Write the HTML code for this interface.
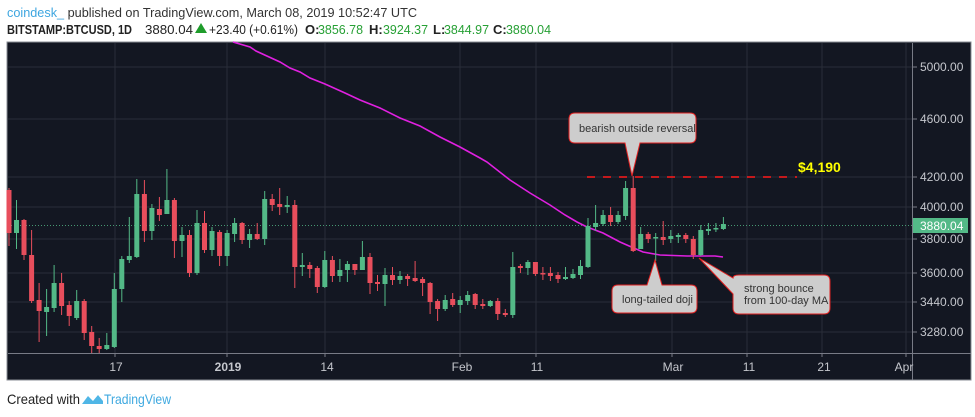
<!DOCTYPE html>
<html><head><meta charset="utf-8"><style>
html,body{margin:0;padding:0;background:#fff;width:975px;height:417px;overflow:hidden}
svg{display:block;font-family:"Liberation Sans",sans-serif}
.ax{fill:#c5c7cd;font-size:12px}
</style></head><body>
<svg width="975" height="417" viewBox="0 0 975 417">
<text x="7" y="17" font-size="13" fill="#333" textLength="410" lengthAdjust="spacingAndGlyphs"><tspan fill="#3ea6e0">coindesk_</tspan> published on TradingView.com, March 08, 2019 10:52:47 UTC</text>
<g font-size="13" fill="#222">
<text x="7" y="34" font-weight="bold" textLength="125" lengthAdjust="spacingAndGlyphs">BITSTAMP:BTCUSD, 1D</text>
<text x="145" y="34" textLength="48" lengthAdjust="spacingAndGlyphs">3880.04</text>
<polygon points="195,33 207,33 201,23" fill="#1f9c2b"/>
<text x="209" y="34" textLength="89" lengthAdjust="spacingAndGlyphs">+23.40 (+0.61%)</text>
<text x="305" y="34" font-weight="bold">O:</text><text x="318" y="34" fill="#27a035" textLength="45" lengthAdjust="spacingAndGlyphs">3856.78</text>
<text x="369" y="34" font-weight="bold">H:</text><text x="383" y="34" fill="#27a035" textLength="45" lengthAdjust="spacingAndGlyphs">3924.37</text>
<text x="433" y="34" font-weight="bold">L:</text><text x="444" y="34" fill="#27a035" textLength="45" lengthAdjust="spacingAndGlyphs">3844.97</text>
<text x="493" y="34" font-weight="bold">C:</text><text x="506" y="34" fill="#27a035" textLength="45" lengthAdjust="spacingAndGlyphs">3880.04</text>
</g>
<rect x="7" y="42" width="964" height="338" fill="#131722" stroke="#8a8d94" stroke-width="1"/>
<g stroke="#2a2e39" stroke-width="1">
<path d="M8 67H912M8 119H912M8 177H912M8 207H912M8 239H912M8 273H912M8 302H912M8 332H912"/>
<path d="M115 43V353M227 43V353M325 43V353M460 43V353M536 43V353M672 43V353M747 43V353M822 43V353M906 43V353"/>
</g>
<line x1="8" y1="353.5" x2="971" y2="353.5" stroke="#787b86"/>
<line x1="912.5" y1="43" x2="912.5" y2="380" stroke="#787b86"/>
<g stroke="#787b86"><path d="M912 67h5M912 119h5M912 177h5M912 207h5M912 239h5M912 273h5M912 302h5M912 332h5"/>
<path d="M115 353v4M227 353v4M325 353v4M460 353v4M536 353v4M672 353v4M747 353v4M822 353v4M906 353v4"/></g>
<g class="ax"><text x="920" y="71">5000.00</text><text x="920" y="123">4600.00</text><text x="920" y="181">4200.00</text><text x="920" y="211">4000.00</text><text x="920" y="243">3800.00</text><text x="920" y="277">3600.00</text><text x="920" y="306">3440.00</text><text x="920" y="336">3280.00</text></g>
<g class="ax" text-anchor="middle"><text x="116" y="371">17</text><text x="228" y="371" font-weight="bold">2019</text><text x="327" y="371">14</text><text x="462" y="371">Feb</text><text x="537" y="371">11</text><text x="673" y="371">Mar</text><text x="749" y="371">11</text><text x="824" y="371">21</text><text x="904" y="371">Apr</text></g>
<line x1="8" y1="225.5" x2="912" y2="225.5" stroke="#53b987" stroke-width="1" stroke-dasharray="1,2" opacity="0.8"/>
<polyline fill="none" stroke="#e020e0" stroke-width="1.6" points="233,42 250,47 256,51 280,62 290,68 300,72 310,78 325,84 345,93 360,100 380,108 400,118 420,126 440,137 460,147 480,158 487,162 510,180 530,193 550,205 565,215 577,222 587,227 603,233 620,242 643,252 660,255 687,256 707,256 715,256 723,257"/>
<g stroke="#e84e5c" stroke-width="1">
<path d="M9 188V246M24 219V260M31.6 230V303M39.1 283V342M61.6 273V315M69.2 301V326M84.2 299V340M91.7 326V353M99.2 338V353M144.4 180V242M159.4 197V221M174.4 198V258M189.5 230V277M204.5 211V253M219.6 230V266M242.1 222V244M257.2 223V240M272.2 194V211M279.7 188V215M294.8 200V288M309.8 262V278M317.3 266V293M332.4 256V282M354.9 264V275M370 253V294M377.5 275V291M392.5 267V285M407.6 274V286M415.1 261V282M422.6 277V296M430.1 282V314M437.6 299V321M452.7 293V307M475.2 293V309M482.8 299V309M497.8 298V320M505.3 309V317M520.4 264V273M535.4 262V276M542.9 267V280M550.4 267V281M558 272V283M610.6 207V226M633.2 176V252M648.2 232V243M663.2 221V245M685.8 233V243M693.3 236V259"/>
</g>
<g fill="#e84e5c">
<rect x="6.5" y="190" width="5" height="43"/><rect x="21.5" y="220" width="5" height="35"/><rect x="29.1" y="255" width="5" height="46"/><rect x="36.6" y="300" width="5" height="11"/><rect x="59.1" y="283" width="5" height="23"/><rect x="66.7" y="305" width="5" height="11"/><rect x="81.7" y="301" width="5" height="32"/><rect x="89.2" y="332" width="5" height="14"/><rect x="96.7" y="346" width="5" height="3"/><rect x="141.9" y="194" width="5" height="37"/><rect x="156.9" y="209" width="5" height="6"/><rect x="171.9" y="200" width="5" height="41"/><rect x="187" y="235" width="5" height="38"/><rect x="202" y="223" width="5" height="27"/><rect x="217.1" y="232" width="5" height="24"/><rect x="239.6" y="223" width="5" height="17"/><rect x="254.7" y="234" width="5" height="5"/><rect x="269.7" y="199" width="5" height="6"/><rect x="277.2" y="204" width="5" height="3"/><rect x="292.3" y="205" width="5" height="62"/><rect x="307.3" y="265" width="5" height="4"/><rect x="314.8" y="268" width="5" height="19"/><rect x="329.9" y="260" width="5" height="16"/><rect x="352.4" y="264" width="5" height="6"/><rect x="367.5" y="257" width="5" height="26"/><rect x="375" y="282" width="5" height="2"/><rect x="390" y="275" width="5" height="5"/><rect x="405.1" y="276" width="5" height="3"/><rect x="412.6" y="278" width="5" height="3"/><rect x="420.1" y="279" width="5" height="4"/><rect x="427.6" y="283" width="5" height="19"/><rect x="435.1" y="301" width="5" height="8"/><rect x="450.2" y="299" width="5" height="6"/><rect x="472.7" y="294" width="5" height="11"/><rect x="480.3" y="304" width="5" height="2"/><rect x="495.3" y="301" width="5" height="13"/><rect x="502.8" y="313" width="5" height="2"/><rect x="517.9" y="266" width="5" height="2"/><rect x="532.9" y="262" width="5" height="12"/><rect x="540.4" y="273" width="5" height="1.5"/><rect x="547.9" y="273" width="5" height="3"/><rect x="555.5" y="275" width="5" height="4"/><rect x="608.1" y="215" width="5" height="7"/><rect x="630.7" y="188" width="5" height="63"/><rect x="645.7" y="234" width="5" height="5"/><rect x="660.7" y="237" width="5" height="3"/><rect x="683.3" y="235" width="5" height="4"/><rect x="690.8" y="239" width="5" height="16"/>
</g>
<g stroke="#53b987" stroke-width="1">
<path d="M16.5 200V249M46.6 289V336M54.1 265V312M76.7 290V320M106.8 333V350M114.3 273V348M121.8 256V302M129.3 217V263M136.8 179V258M151.9 204V240M166.9 169V214M182 227V257M197 210V275M212 227V256M227.1 230V266M234.6 218V242M249.6 229V248M264.7 191V245M287.2 196V213M302.3 253V276M324.8 251V288M339.9 259V282M347.4 261V282M362.4 241V270M385 268V306M400 271V284M445.2 295V311M460.2 296V313M467.7 291V305M490.3 300V307M512.8 252V318M527.9 260V275M565.5 267V280M573 269V279M580.5 260V279M588 218V268M595.6 205V231M603.1 210V226M618.1 211V224M625.6 181V220M640.7 227V249M655.7 233V261M670.8 230V243M678.3 233V243M700.8 225V256M708.4 223V235M715.9 223V232M723.4 217V230"/>
</g>
<g fill="#53b987">
<rect x="14" y="220" width="5" height="13"/><rect x="44.1" y="307" width="5" height="5"/><rect x="51.6" y="283" width="5" height="25"/><rect x="74.2" y="301" width="5" height="17"/><rect x="104.3" y="345" width="5" height="4"/><rect x="111.8" y="289" width="5" height="58"/><rect x="119.3" y="259" width="5" height="30"/><rect x="126.8" y="256" width="5" height="4"/><rect x="134.3" y="194" width="5" height="63"/><rect x="149.4" y="208" width="5" height="23"/><rect x="164.4" y="200" width="5" height="14"/><rect x="179.5" y="235" width="5" height="6"/><rect x="194.5" y="223" width="5" height="50"/><rect x="209.5" y="231" width="5" height="19"/><rect x="224.6" y="233" width="5" height="23"/><rect x="232.1" y="223" width="5" height="11"/><rect x="247.1" y="234" width="5" height="6"/><rect x="262.2" y="199" width="5" height="40"/><rect x="284.7" y="205" width="5" height="2"/><rect x="299.8" y="265" width="5" height="2"/><rect x="322.3" y="260" width="5" height="27"/><rect x="337.4" y="270" width="5" height="6"/><rect x="344.9" y="264" width="5" height="6"/><rect x="359.9" y="257" width="5" height="13"/><rect x="382.5" y="275" width="5" height="9"/><rect x="397.5" y="276" width="5" height="4"/><rect x="442.7" y="300" width="5" height="9"/><rect x="457.7" y="300" width="5" height="5"/><rect x="465.2" y="295" width="5" height="6"/><rect x="487.8" y="301" width="5" height="5"/><rect x="510.3" y="267" width="5" height="48"/><rect x="525.4" y="262" width="5" height="6"/><rect x="563" y="277" width="5" height="2"/><rect x="570.5" y="274" width="5" height="4"/><rect x="578" y="266" width="5" height="9"/><rect x="585.5" y="226" width="5" height="41"/><rect x="593.1" y="223" width="5" height="4"/><rect x="600.6" y="215" width="5" height="9"/><rect x="615.6" y="215" width="5" height="7"/><rect x="623.1" y="188" width="5" height="28"/><rect x="638.2" y="234" width="5" height="15"/><rect x="653.2" y="237" width="5" height="1.5"/><rect x="668.3" y="236" width="5" height="3"/><rect x="675.8" y="235" width="5" height="2"/><rect x="698.3" y="230" width="5" height="25"/><rect x="705.9" y="229" width="5" height="2"/><rect x="713.4" y="228" width="5" height="1.5"/><rect x="720.9" y="224" width="5" height="5"/>
</g>
<line x1="587" y1="177" x2="797" y2="177" stroke="#ff1a1a" stroke-width="1.5" stroke-dasharray="8,8"/>
<text x="798" y="172" font-size="14" font-weight="bold" fill="#ffff00">$4,190</text>
<g fill="#cdcdcd" stroke="#e02020" stroke-width="1">
<path d="M575 113H690Q696 113 696 119V137Q696 143 690 143H640L632 176L625 143H575Q569 143 569 137V119Q569 113 575 113Z"/>
<path d="M618 285H647L655 260L662 285H691Q697 285 697 291V307Q697 313 691 313H618Q612 313 612 307V291Q612 285 618 285Z"/>
<path d="M739 275H824Q830 275 830 281V308Q830 314 824 314H739Q733 314 733 308V294L699 258L733 278Q733 275 739 275Z"/>
</g>
<g font-size="11" fill="#333">
<text x="579" y="132">bearish outside reversal</text>
<text x="622" y="303">long-tailed doji</text>
<text x="744" y="292">strong bounce</text>
<text x="744" y="304">from 100-day MA</text>
</g>
<rect x="913" y="218" width="55" height="15" fill="#53b987"/>
<text x="920" y="230" font-size="12" fill="#fff">3880.04</text>
<text x="7" y="404" font-size="14" fill="#222" textLength="73" lengthAdjust="spacingAndGlyphs">Created with</text>
<path d="M82 404L88 396L93 401L98 395L103 401V404Z" fill="#4fb6e6"/>
<text x="104" y="404" font-size="14" fill="#3fa9e0" textLength="67" lengthAdjust="spacingAndGlyphs">TradingView</text>
</svg>
</body></html>
